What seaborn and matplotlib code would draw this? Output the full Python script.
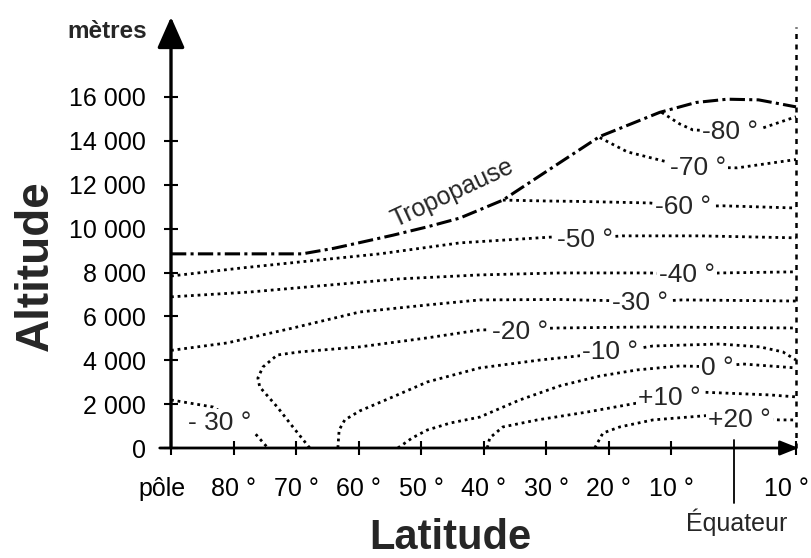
import matplotlib
matplotlib.use("Agg")
import matplotlib.pyplot as plt
import matplotlib.transforms as mtransforms
import seaborn as sns

# ---------------- data (latitude in degrees, altitude in metres) ----------------
xtick_lats = [90, 80, 70, 60, 50, 40, 30, 20, 10, -10]
xtick_labels = ["pôle", "80 °", "70 °", "60 °", "50 °", "40 °", "30 °", "20 °", "10 °", "10 °"]
ytick_vals = [0, 2000, 4000, 6000, 8000, 10000, 12000, 14000, 16000]
ytick_labels = ["0", "2 000", "4 000", "6 000", "8 000", "10 000", "12 000", "14 000", "16 000"]

trop_lat = [90, 69, 64, 60, 54.5, 49, 43.8, 36.9, 28.9, 21.4, 11.8, 6, 1, -4, -10]
trop_alt = [8850, 8850, 9100, 9350, 9700, 10080, 10480, 11300, 12800, 14200, 15300, 15750, 15900, 15870, 15550]

iso_m80_lat = [11.5, 8.6, 6.5, 0.6, -4.7, -10]
iso_m80_alt = [15300, 14770, 14500, 14420, 14590, 15100]

iso_m70_lat = [21.4, 17.0, 10.6, 5.7, -0.6, -10]
iso_m70_alt = [14150, 13500, 13040, 12800, 12770, 13150]

iso_m60_lat = [36.9, 30.0, 24.6, 13.4, 8.1, 1.7, -10]
iso_m60_alt = [11300, 11260, 11240, 11170, 11000, 11040, 10940]

iso_m50_lat = [90, 78.6, 69.4, 56.6, 43.8, 28.9, 23.8, 17.8, 5.4, -10]
iso_m50_alt = [7840, 8210, 8480, 8850, 9350, 9620, 9550, 9670, 9670, 9580]

iso_m40_lat = [90, 77.4, 64.6, 53.4, 40.6, 27.8, 13.4, 7.4, 2.2, -10]
iso_m40_alt = [6890, 7110, 7430, 7710, 7890, 7980, 7980, 7900, 7980, 8030]

iso_m30_lat = [90, 81, 70.5, 59.8, 49, 40.6, 28, 20, 15.0, 8.2, -10]
iso_m30_alt = [4450, 4790, 5470, 6200, 6520, 6750, 6770, 6720, 6650, 6750, 6700]

iso_m30p_lat = [90, 83.3, 78.2, 76.6, 74.5]
iso_m30p_alt = [2190, 1870, 1000, 680, 0]

iso_m20_lat = [67.8, 70.5, 73.0, 75.8, 76.1, 75.3, 73.0, 69.4, 59.8, 49.0, 40.6, 33.7, 28.2, 13.4, -10]
iso_m20_alt = [0, 960, 1870, 2780, 3190, 3690, 4240, 4380, 4610, 5020, 5380, 5420, 5470, 5520, 5470]

iso_m10_lat = [63.3, 63.1, 62.2, 59.8, 54.5, 49.0, 40.6, 31.0, 23.4, 19.8, 12.9, 2.2, -4.2, -7.9, -10]
iso_m10_alt = [0, 820, 1280, 1690, 2330, 3010, 3650, 4010, 4240, 4330, 4650, 4740, 4610, 4380, 4010]

iso_0_lat = [53.7, 51.4, 49.0, 45.3, 40.6, 34.2, 27.8, 21.4, 15.4, 8.6, 2.6, -1.5, -10]
iso_0_alt = [0, 460, 820, 1140, 1410, 2190, 2830, 3280, 3560, 3740, 3700, 3830, 3650]

iso_p10_lat = [39.4, 39.0, 36.9, 31.4, 23.4, 15.4, 10.2, 5.4, -5.8, -10]
iso_p10_alt = [0, 460, 960, 1280, 1640, 2050, 2280, 2550, 2420, 2330]

iso_p20_lat = [22.2, 20.9, 18.2, 12.9, 3.3, -1.0, -7.4, -10]
iso_p20_alt = [0, 680, 960, 1280, 1500, 1350, 1280, 1280]

label_text = ["-80 °", "-70 °", "-60 °", "-50 °", "-40 °", "-30 °", "-20 °",
              "-10 °", "0 °", "+10 °", "+20 °", "- 30 °"]
label_lat = [0.6, 5.7, 8.1, 23.8, 7.4, 15.0, 34.2, 19.8, 2.6, 10.2, -1.0, 82.2]
label_alt = [14410, 12770, 10990, 9485, 7890, 6610, 5290, 4380, 3650, 2280, 1280, 1140]

trop_label_lat, trop_label_alt = 45.0, 11600

# ---------------- styling ----------------
sns.set_theme(style="white")
plt.rcParams["font.family"] = ["Liberation Sans", "DejaVu Sans"]
NARROW = ["Liberation Sans Narrow", "Liberation Sans", "DejaVu Sans"]

fig = plt.figure(figsize=(8.11, 5.58), dpi=100)
ax = fig.add_axes([171 / 811, 110 / 558, 625 / 811, 351 / 558])
ax.set_xlim(90, -10)
ax.set_ylim(0, 16000)

isotherms = [
    (iso_m80_lat, iso_m80_alt), (iso_m70_lat, iso_m70_alt), (iso_m60_lat, iso_m60_alt),
    (iso_m50_lat, iso_m50_alt), (iso_m40_lat, iso_m40_alt), (iso_m30_lat, iso_m30_alt),
    (iso_m30p_lat, iso_m30p_alt), (iso_m20_lat, iso_m20_alt), (iso_m10_lat, iso_m10_alt),
    (iso_0_lat, iso_0_alt), (iso_p10_lat, iso_p10_alt), (iso_p20_lat, iso_p20_alt),
]
for lat, alt in isotherms:
    sns.lineplot(x=lat, y=alt, sort=False, estimator=None, ax=ax, color="black",
                 lw=2.0, linestyle=(0, (1, 1.4)), clip_on=False)

sns.lineplot(x=trop_lat, y=trop_alt, sort=False, estimator=None, ax=ax, color="black",
             lw=2.2, linestyle=(0, (5, 1.4, 1, 1.4)), clip_on=False)

for t, la, al in zip(label_text, label_lat, label_alt):
    ax.text(la, al, t, ha="center", va="center", fontsize=19, family=NARROW, zorder=5,
            bbox=dict(boxstyle="square,pad=0.08", fc="white", ec="none"))

ax.text(trop_label_lat, trop_label_alt, "Tropopause", rotation=25, ha="center", va="center",
        fontsize=18, family=NARROW, rotation_mode="anchor")

# axes
for s in ax.spines.values():
    s.set_visible(False)
ax.set_xticks(xtick_lats)
ax.set_xticklabels(xtick_labels, fontsize=18)
ax.set_yticks(ytick_vals)
ax.set_yticklabels(ytick_labels, fontsize=18)
ax.tick_params(axis="both", direction="inout", length=10, width=1.5, color="black",
               bottom=True, left=True, labelcolor="black")
ax.tick_params(axis="x", pad=16)
ax.tick_params(axis="y", pad=13)
ax.grid(False)
ax.set_xlabel("")
ax.set_ylabel("")

# nudge first and last x tick labels like the reference
xlabels = ax.get_xticklabels()
xlabels[0].set_transform(xlabels[0].get_transform() +
                         mtransforms.ScaledTranslation(-9 / 100, 0, fig.dpi_scale_trans))
xlabels[-1].set_transform(xlabels[-1].get_transform() +
                          mtransforms.ScaledTranslation(-10 / 100, 0, fig.dpi_scale_trans))

ax.annotate("", xy=(0, 1.228), xytext=(0, 0), xycoords="axes fraction",
            arrowprops=dict(arrowstyle="-|>,head_length=0.95,head_width=0.42", lw=2.4,
                            color="black", shrinkA=0, shrinkB=0, mutation_scale=20))
ax.annotate("", xy=(1.004, 0), xytext=(-0.018, 0), xycoords="axes fraction",
            arrowprops=dict(arrowstyle="-|>,head_length=0.55,head_width=0.22", lw=2.0,
                            color="black", shrinkA=0, shrinkB=0, mutation_scale=20))

ax.plot([0, 0], [0.023, -0.157], transform=ax.get_xaxis_transform(), clip_on=False,
        color="black", lw=1.3)
ax.plot([-10, -10], [0, 1.2], transform=ax.get_xaxis_transform(), clip_on=False,
        color="black", lw=1.8, linestyle=(0, (2, 2.2)))

fig.text(147 / 811, 1 - 31 / 558, "mètres", ha="right", va="center", fontsize=17.5, fontweight="bold")
fig.text(36 / 811, 1 - 266 / 558, "Altitude", rotation=90, ha="center", va="center",
         fontsize=33, fontweight="bold")
fig.text(450 / 811, 1 - 538 / 558, "Latitude", ha="center", va="center", fontsize=30,
         fontweight="bold")
fig.text(737 / 811, 1 - 522 / 558, "Équateur", ha="center", va="center", fontsize=18,
         family=NARROW)

fig.savefig("out.png", dpi=100)
